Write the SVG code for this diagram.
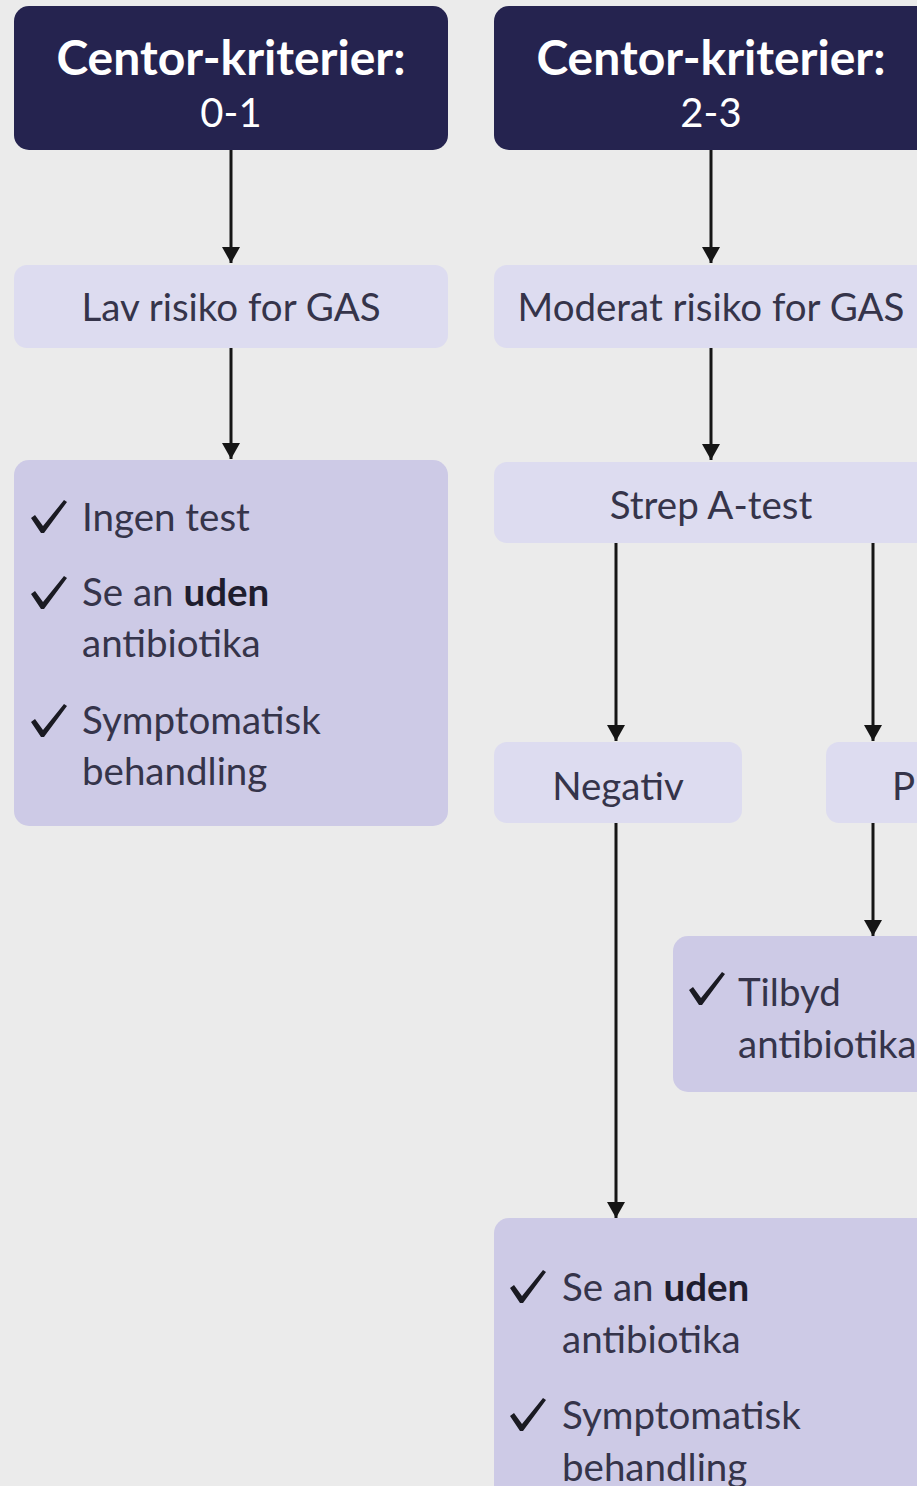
<svg xmlns="http://www.w3.org/2000/svg" width="917" height="1486" viewBox="0 0 917 1486">
<style>
.hdr{fill:#25234f}
.lt{fill:#dddcf0}
.lst{fill:#cdcae6}
.ht{font-family:Lato,"Liberation Sans",sans-serif;fill:#ffffff;text-anchor:middle}
.t{font-family:Lato,"Liberation Sans",sans-serif;font-size:38.5px;fill:#35344a}
.c{text-anchor:middle}
.b{font-weight:bold;fill:#1e1d2e}
.ln{stroke:#151515;stroke-width:3;fill:none;marker-end:url(#ah)}
</style>
<defs>
<marker id="ah" viewBox="0 0 16 18" refX="16" refY="9" markerWidth="16" markerHeight="18" markerUnits="userSpaceOnUse" orient="auto">
<path d="M0,0 L16,9 L0,18 z" fill="#151515"/>
</marker>
<path id="chk" d="M0,18 L4,15 L12,26 L33,0 L36,2 L13,33 L10,33 z" fill="#1a1a22"/>
</defs>
<rect width="917" height="1486" fill="#ebebeb"/>
<g id="connectors">
<line class="ln" x1="231" y1="150" x2="231" y2="263"/>
<line class="ln" x1="711" y1="150" x2="711" y2="263"/>
<line class="ln" x1="231" y1="348" x2="231" y2="459"/>
<line class="ln" x1="711" y1="348" x2="711" y2="460"/>
<line class="ln" x1="616" y1="543" x2="616" y2="741"/>
<line class="ln" x1="873" y1="543" x2="873" y2="741"/>
<line class="ln" x1="616" y1="823" x2="616" y2="1218"/>
<line class="ln" x1="873" y1="823" x2="873" y2="936"/>
</g>
<g id="n-c01">
<rect class="hdr" x="14" y="6" width="434" height="144" rx="15"/>
<text class="ht" x="231" y="75" font-size="48" font-weight="bold">Centor-kriterier:</text>
<text class="ht" x="231" y="127" font-size="40">0-1</text>
</g>
<g id="n-c23">
<rect class="hdr" x="494" y="6" width="440" height="144" rx="15"/>
<text class="ht" x="711" y="75" font-size="48" font-weight="bold">Centor-kriterier:</text>
<text class="ht" x="711" y="127" font-size="40">2-3</text>
</g>
<g id="n-lav">
<rect class="lt" x="14" y="265" width="434" height="83" rx="13"/>
<text class="t c" x="231" y="321">Lav risiko for GAS</text>
</g>
<g id="n-mod">
<rect class="lt" x="494" y="265" width="440" height="83" rx="13"/>
<text class="t c" x="711" y="321">Moderat risiko for GAS</text>
</g>
<g id="n-lav-list">
<rect class="lst" x="14" y="460" width="434" height="366" rx="15"/>
<use href="#chk" x="31" y="500"/>
<text class="t" x="82" y="531">Ingen test</text>
<use href="#chk" x="31" y="576"/>
<text class="t" x="82" y="606">Se an <tspan class="b">uden</tspan></text>
<text class="t" x="82" y="657">antibiotika</text>
<use href="#chk" x="31" y="704"/>
<text class="t" x="82" y="734">Symptomatisk</text>
<text class="t" x="82" y="785">behandling</text>
</g>
<g id="n-strep">
<rect class="lt" x="494" y="462" width="440" height="81" rx="13"/>
<text class="t c" x="711" y="519">Strep A-test</text>
</g>
<g id="n-neg">
<rect class="lt" x="494" y="742" width="248" height="81" rx="13"/>
<text class="t c" x="618" y="800">Negativ</text>
</g>
<g id="n-pos">
<rect class="lt" x="826" y="742" width="120" height="81" rx="13"/>
<text class="t" x="892" y="800">P</text>
</g>
<g id="n-tilbyd">
<rect class="lst" x="673" y="936" width="270" height="156" rx="15"/>
<use href="#chk" x="689" y="972"/>
<text class="t" x="738" y="1006">Tilbyd</text>
<text class="t" x="738" y="1058">antibiotika</text>
</g>
<g id="n-neg-list">
<rect class="lst" x="494" y="1218" width="440" height="290" rx="15"/>
<use href="#chk" x="510" y="1270"/>
<text class="t" x="562" y="1301">Se an <tspan class="b">uden</tspan></text>
<text class="t" x="562" y="1353">antibiotika</text>
<use href="#chk" x="510" y="1398"/>
<text class="t" x="562" y="1429">Symptomatisk</text>
<text class="t" x="562" y="1481">behandling</text>
</g>
</svg>
